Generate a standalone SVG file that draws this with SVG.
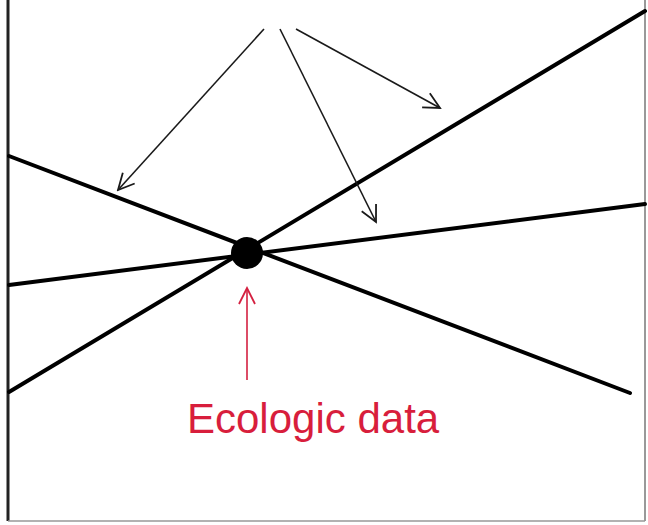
<svg xmlns="http://www.w3.org/2000/svg" width="648" height="525" viewBox="0 0 648 525">
<defs>
<style>
.thick{stroke:#000;stroke-width:4;fill:none;stroke-linecap:round}
.thin{stroke:#1a1a1a;stroke-width:1.6;fill:none}
.red{stroke:#d42040;stroke-width:1.6;fill:none}
.lbl{font-family:"Liberation Sans",Arial,sans-serif;font-size:42px;fill:#d81e3c}
</style>
<marker id="ah" viewBox="0 0 20 20" refX="18" refY="10" markerWidth="20" markerHeight="20" markerUnits="userSpaceOnUse" orient="auto">
<path d="M2,2 L18,10 L2,18" fill="none" stroke="#1a1a1a" stroke-width="1.8"/>
</marker>
<marker id="ahr" viewBox="0 0 20 20" refX="18" refY="10" markerWidth="20" markerHeight="20" markerUnits="userSpaceOnUse" orient="auto">
<path d="M2,2 L18,10 L2,18" fill="none" stroke="#d42040" stroke-width="1.8"/>
</marker>
</defs>
<rect width="648" height="525" fill="#fff"/>
<g id="frame">
<line x1="8" y1="0" x2="8" y2="521" stroke="#222" stroke-width="3"/>
<line x1="645" y1="0" x2="645" y2="521" stroke="#777" stroke-width="1.5"/>
<line x1="8" y1="521" x2="645" y2="521" stroke="#999" stroke-width="1.5"/>
</g>
<g id="connectors">
<line class="thick" x1="9" y1="156" x2="630" y2="393"/>
<line class="thick" x1="9" y1="392" x2="645" y2="11"/>
<line class="thick" x1="9" y1="285" x2="645" y2="204"/>
<line class="thin" x1="264" y1="29" x2="118" y2="190" marker-end="url(#ah)"/>
<line class="thin" x1="280" y1="29" x2="376" y2="222" marker-end="url(#ah)"/>
<line class="thin" x1="296" y1="29" x2="440" y2="108" marker-end="url(#ah)"/>
<line class="red" x1="247" y1="380" x2="247" y2="288" marker-end="url(#ahr)"/>
</g>
<g id="point">
<circle cx="247" cy="253" r="16" fill="#000"/>
</g>
<g id="label">
<text class="lbl" x="187" y="433">Ecologic data</text>
</g>
</svg>
